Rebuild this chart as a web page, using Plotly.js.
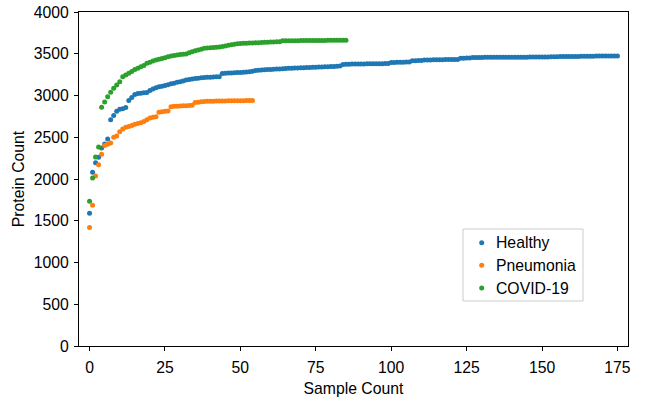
<!DOCTYPE html>
<html>
<head>
<meta charset="utf-8">
<script src="https://cdn.plot.ly/plotly-3.0.1.min.js"></script>
<style>html,body{margin:0;padding:0;background:#fff;}#chart{width:646px;height:402px;}</style>
</head>
<body>
<div id="chart"></div>
<script>
// Sorted protein counts per sample
const healthy = [
  1590, 2080, 2195, 2260, 2370, 2420, 2480, 2710, 2760, 2810,
  2835, 2842, 2855, 2940, 2975, 3012, 3025, 3027, 3032, 3036,
  3060, 3078, 3092, 3105, 3110, 3120, 3130, 3140, 3148, 3158,
  3165, 3175, 3185, 3192, 3198, 3203, 3208, 3213, 3216, 3218,
  3220, 3222, 3224, 3226, 3262, 3266, 3268, 3270, 3272, 3274,
  3276, 3278, 3280, 3283, 3290, 3298, 3303, 3306, 3308, 3310,
  3312, 3314, 3316, 3318, 3320, 3322, 3325, 3326, 3328, 3330,
  3331, 3332, 3334, 3335, 3337, 3338, 3340, 3341, 3343, 3344,
  3346, 3348, 3350, 3352, 3372, 3374, 3375, 3376, 3377, 3377,
  3378, 3378, 3379, 3379, 3380, 3380, 3381, 3381, 3382, 3382,
  3395, 3396, 3397, 3398, 3399, 3400, 3402, 3415, 3417, 3418,
  3420, 3425, 3426, 3426, 3427, 3428, 3428, 3429, 3430, 3430,
  3431, 3431, 3432, 3445, 3447, 3448, 3450, 3455, 3455, 3456,
  3456, 3457, 3457, 3457, 3457, 3457, 3458, 3458, 3458, 3458,
  3458, 3458, 3458, 3458, 3458, 3458, 3461, 3461, 3461, 3462,
  3462, 3462, 3462, 3463, 3463, 3463, 3466, 3466, 3467, 3467,
  3467, 3468, 3468, 3470, 3470, 3471, 3471, 3471, 3472, 3472,
  3472, 3472, 3473, 3473, 3473, 3473
];
const pneumonia = [
  1420, 1685, 2035, 2170, 2295, 2400, 2415, 2430, 2500, 2515,
  2565, 2600, 2620, 2630, 2640, 2655, 2665, 2675, 2690, 2710,
  2730, 2740, 2745, 2800, 2806, 2810, 2815, 2865, 2870, 2872,
  2874, 2876, 2878, 2880, 2882, 2915, 2920, 2925, 2928, 2930,
  2931, 2932, 2933, 2934, 2935, 2935, 2936, 2936, 2937, 2937,
  2938, 2938, 2939, 2939, 2940
];
const covid = [
  1735, 2012, 2262, 2382, 2858, 2922, 2986, 3038, 3086, 3126,
  3166, 3226, 3246, 3266, 3286, 3312, 3325, 3345, 3360, 3385,
  3397, 3412, 3425, 3433, 3443, 3453, 3463, 3473, 3479, 3485,
  3490, 3494, 3498, 3513, 3525, 3537, 3545, 3553, 3565, 3570,
  3573, 3576, 3579, 3581, 3587, 3593, 3601, 3609, 3615, 3620,
  3623, 3625, 3627, 3628, 3630, 3632, 3633, 3635, 3637, 3638,
  3640, 3642, 3643, 3645, 3655, 3655, 3656, 3656, 3657, 3657,
  3658, 3658, 3658, 3659, 3659, 3659, 3660, 3660, 3660, 3661,
  3661, 3661, 3661, 3662, 3662, 3662
];
const seriesNames = ["Healthy", "Pneumonia", "COVID-19"];
const seriesColors = ["#1f77b4", "#ff7f0e", "#2ca02c"];
const xTicks = [0, 25, 50, 75, 100, 125, 150, 175];
const yTicks = [0, 500, 1000, 1500, 2000, 2500, 3000, 3500, 4000];

const allSeries = [healthy, pneumonia, covid];
const traces = allSeries.map((vals, k) => ({
  type: "scatter",
  mode: "markers",
  name: seriesNames[k],
  x: vals.map((_, i) => i),
  y: vals,
  marker: {color: seriesColors[k], size: 5, line: {width: 0}},
  showlegend: false
}));

const FS = 15.75;
const font = {family: "Liberation Sans, Arial, sans-serif", size: FS, color: "#000"};

// Custom legend (matplotlib-style) built in paper coordinates
const L = 79, T = 12, W = 549, H = 334;
const px = v => (v - L) / W;
const py = v => (T + H - v) / H;
const legBox = {x0: 463, x1: 583, y0: 229, y1: 301};
const legRows = [242.7, 265.3, 288];
const shapes = [{
  type: "rect", xref: "paper", yref: "paper",
  x0: px(legBox.x0), x1: px(legBox.x1), y0: py(legBox.y1), y1: py(legBox.y0),
  line: {color: "#cccccc", width: 1}, fillcolor: "rgba(255,255,255,0.8)", layer: "above"
}];
const annotations = [];
seriesNames.forEach((name, k) => {
  shapes.push({
    type: "circle", xref: "paper", yref: "paper",
    xsizemode: "pixel", ysizemode: "pixel",
    xanchor: px(481.7), yanchor: py(legRows[k]),
    x0: -2.5, x1: 2.5, y0: -2.5, y1: 2.5,
    fillcolor: seriesColors[k], line: {width: 0}, layer: "above"
  });
  annotations.push({
    xref: "paper", yref: "paper", x: px(494), y: py(legRows[k]),
    xanchor: "left", yanchor: "middle", showarrow: false,
    text: name, font: font
  });
});

const layout = {
  width: 646, height: 402,
  margin: {l: 79, r: 18, t: 12, b: 56},
  paper_bgcolor: "#fff", plot_bgcolor: "#fff",
  font: font,
  showlegend: false,
  shapes: shapes,
  annotations: annotations,
  xaxis: {
    range: [-3.5, 178.5], tickvals: xTicks, ticktext: xTicks.map(String),
    showgrid: false, zeroline: false, showline: true, mirror: true,
    linecolor: "#000", linewidth: 1, ticks: "outside", ticklen: 4, tickcolor: "#000",
    ticklabelstandoff: 3,
    title: {text: "Sample Count", font: font, standoff: 8}
  },
  yaxis: {
    range: [0, 4000], tickvals: yTicks, ticktext: yTicks.map(String),
    showgrid: false, zeroline: false, showline: true, mirror: true,
    linecolor: "#000", linewidth: 1, ticks: "outside", ticklen: 4, tickcolor: "#000",
    ticklabelstandoff: 2,
    title: {text: "Protein Count", font: font, standoff: 5}
  }
};
Plotly.newPlot("chart", traces, layout, {displayModeBar: false, staticPlot: true});
</script>
</body>
</html>
